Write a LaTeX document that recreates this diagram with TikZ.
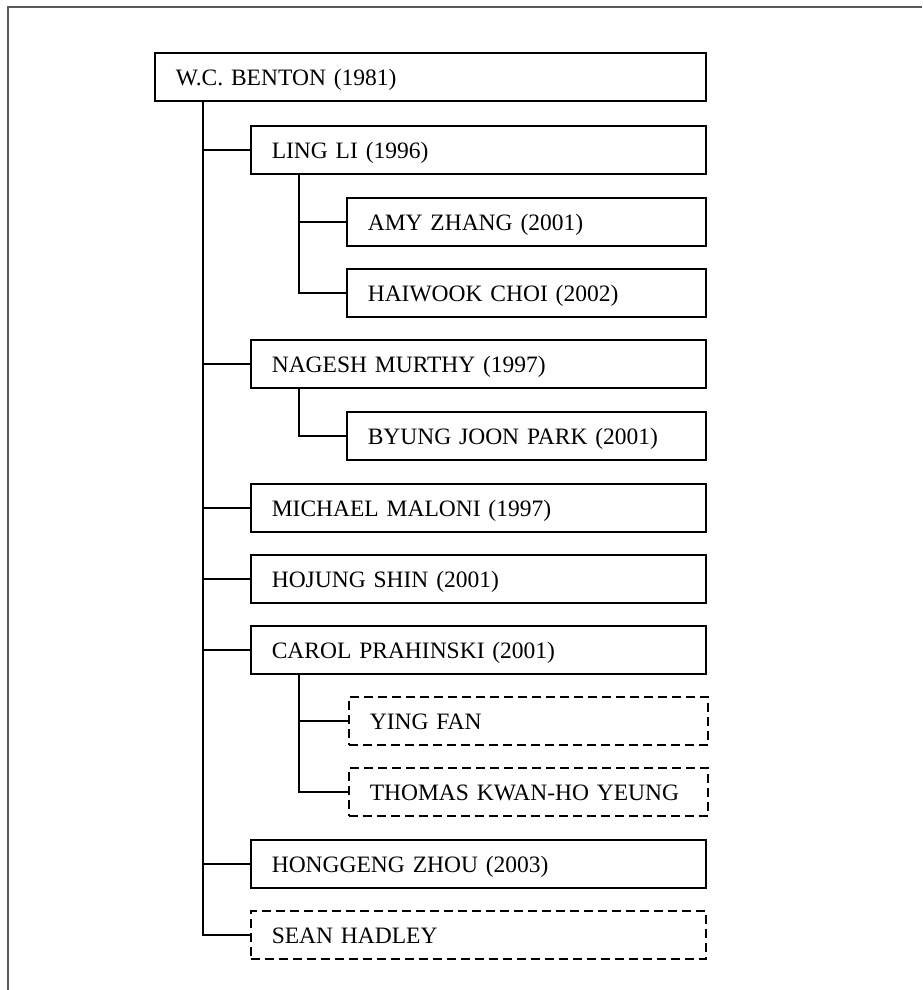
\documentclass[tikz,border=0pt]{standalone}
\usepackage{fontspec}
\setmainfont{Liberation Serif}
\begin{document}
\begin{tikzpicture}[x=1pt,y=-1pt,
  box/.style={draw=black, line width=1.6pt, rectangle, anchor=north west,
    minimum height=48pt, inner xsep=21pt, inner ysep=0pt, align=left,
    text height=18pt, text depth=0pt,
    font=\fontsize{23.5}{28}\selectfont},
  dbox/.style={box, dash pattern=on 9pt off 5pt},
  rootw/.style={text width=509pt},
  l1w/.style={text width=413pt},
  l2w/.style={text width=317pt},
  conn/.style={draw=black, line width=1.6pt}]
\useasboundingbox (0,0) rectangle (922,990);
\draw[draw=black!65, line width=1.8pt] (8,990) -- (8,7) -- (922,7);

\node[box, rootw] (root) at (154,52) {W.C. BENTON (1981)};
\node[box, l1w] (lingli) at (250,125) {LING LI (1996)};
\node[box, l2w] (amy) at (346,197) {AMY ZHANG (2001)};
\node[box, l2w] (haiwook) at (346,268) {HAIWOOK CHOI (2002)};
\node[box, l1w] (nagesh) at (250,339) {NAGESH MURTHY (1997)};
\node[box, l2w] (byung) at (346,411) {BYUNG JOON PARK (2001)};
\node[box, l1w] (maloni) at (250,483) {MICHAEL MALONI (1997)};
\node[box, l1w] (hojung) at (250,554) {HOJUNG SHIN (2001)};
\node[box, l1w] (carol) at (250,625) {CAROL PRAHINSKI (2001)};
\node[dbox, l2w] (ying) at (348,696) {YING FAN};
\node[dbox, l2w] (thomas) at (348,767) {THOMAS KWAN-HO YEUNG};
\node[box, l1w] (honggeng) at (250,839) {HONGGENG ZHOU (2003)};
\node[dbox, l1w] (sean) at (250,910) {SEAN HADLEY};

\coordinate (t0) at ([xshift=49pt]root.south west);
\coordinate (t1) at ([xshift=49pt]lingli.south west);
\coordinate (t2) at ([xshift=49pt]nagesh.south west);
\coordinate (t3) at ([xshift=49pt]carol.south west);

\foreach \c in {lingli,nagesh,maloni,hojung,carol,honggeng,sean}
  \draw[conn] (t0) |- (\c.west);
\foreach \c in {amy,haiwook}
  \draw[conn] (t1) |- (\c.west);
\draw[conn] (t2) |- (byung.west);
\foreach \c in {ying,thomas}
  \draw[conn] (t3) |- (\c.west);
\end{tikzpicture}
\end{document}
